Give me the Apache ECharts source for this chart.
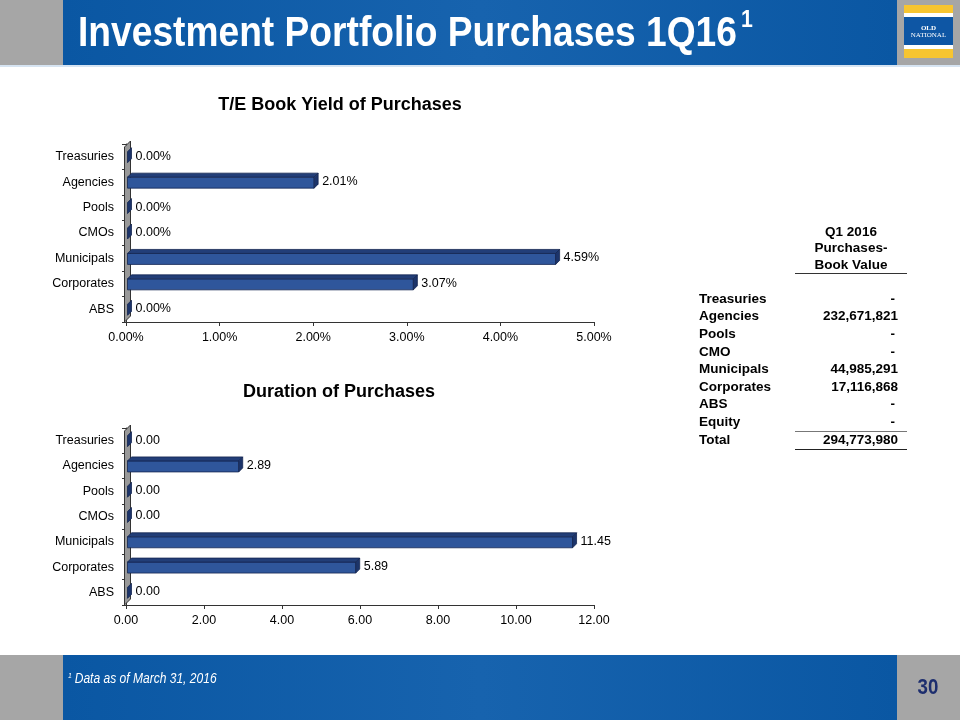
<!DOCTYPE html>
<html>
<head>
<meta charset="utf-8">
<script src="https://cdn.jsdelivr.net/npm/echarts@6/dist/echarts.min.js"></script>
<style>
html,body{margin:0;padding:0;background:#fff;}
#c{width:960px;height:720px;}
</style>
</head>
<body>
<div id="c"></div>
<script>
// ---- data ----
var categories = ['Treasuries', 'Agencies', 'Pools', 'CMOs', 'Municipals', 'Corporates', 'ABS'];
var yieldValues = [0.00, 2.01, 0.00, 0.00, 4.59, 3.07, 0.00];      // %
var durationValues = [0.00, 2.89, 0.00, 0.00, 11.45, 5.89, 0.00];
var yieldTicks = { min: 0, max: 5, interval: 1 };
var durationTicks = { min: 0, max: 12, interval: 2 };

var tableHeader = ['Q1 2016', 'Purchases-', 'Book Value'];
var tableLabels = ['Treasuries', 'Agencies', 'Pools', 'CMO', 'Municipals', 'Corporates', 'ABS', 'Equity', 'Total'];
var tableValues = ['-', '232,671,821', '-', '-', '44,985,291', '17,116,868', '-', '-', '294,773,980'];

var pageTitle = 'Investment Portfolio Purchases 1Q16';
var footnote = 'Data as of March 31, 2016';
var pageNumber = '30';

// ---- helpers ----
var FONT = 'Arial, "Liberation Sans", sans-serif';
var NARROW = '"Liberation Sans Narrow", "Arial Narrow", "Liberation Sans", Arial, sans-serif';

function toData(vals) { return vals.map(function (v, i) { return [v, i]; }); }

function bar3d(fmt) {
  return function (params, api) {
    var v = api.value(0), cat = api.value(1);
    var p0 = api.coord([0, cat]);
    var p1 = api.coord([v, cat]);
    var h = 11, d = 4;
    var x0 = p0[0] + 1.5, x1 = Math.max(p1[0], x0);
    var yTop = p1[1] - 5;
    var yBot = yTop + h;
    var children = [];
    if (x1 - x0 > 0.5) {
      children.push({ type: 'rect', shape: { x: x0, y: yTop, width: x1 - x0, height: h },
        style: { fill: '#2F569B', stroke: '#142650', lineWidth: 0.8 } });
      children.push({ type: 'polygon', shape: { points: [[x0, yTop], [x0 + d, yTop - d], [x1 + d, yTop - d], [x1, yTop]] },
        style: { fill: '#223E78', stroke: '#142650', lineWidth: 0.8 } });
    }
    children.push({ type: 'polygon', shape: { points: [[x1, yTop], [x1 + d, yTop - d], [x1 + d, yBot - d], [x1, yBot]] },
      style: { fill: '#1C346A', stroke: '#142650', lineWidth: 0.8 } });
    children.push({ type: 'text', style: { text: fmt(v), x: x1 + d + 4, y: p1[1] - 0.5,
      textAlign: 'left', textVerticalAlign: 'middle', fill: '#000', font: '12.5px ' + FONT } });
    return { type: 'group', children: children };
  };
}

function wall(params, api) {
  var cs = params.coordSys;
  var wd = 6;
  var x0 = cs.x - 1.5, yt = cs.y - 3, yb = cs.y + cs.height;
  return { type: 'polygon', shape: { points: [[x0, yb], [x0, yt + wd], [x0 + wd, yt], [x0 + wd, yb - wd]] },
    style: { fill: '#999999', stroke: '#333333', lineWidth: 1 } };
}

function xAxisCfg(gi, t, fmt) {
  return { type: 'value', gridIndex: gi, min: t.min, max: t.max, interval: t.interval,
    axisLine: { show: true, lineStyle: { color: '#333', width: 1 } },
    axisTick: { show: true, length: 4, lineStyle: { color: '#333' } },
    splitLine: { show: false },
    axisLabel: { color: '#000', fontSize: 12.5, fontFamily: FONT, margin: 9, formatter: fmt } };
}
function yAxisCfg(gi) {
  return { type: 'category', gridIndex: gi, data: categories, inverse: true,
    axisLine: { show: true, lineStyle: { color: '#333', width: 1 } },
    axisTick: { show: true, length: 4, lineStyle: { color: '#333' } },
    axisLabel: { color: '#000', fontSize: 12.5, fontFamily: FONT, margin: 12 } };
}

var blueGrad = function () {
  return new echarts.graphic.LinearGradient(0, 0, 1, 0, [
    { offset: 0, color: '#0A57A3' }, { offset: 0.5, color: '#1763AE' }, { offset: 1, color: '#0A57A3' }]);
};

var graphics = [];
// header
graphics.push({ type: 'rect', shape: { x: 0, y: 0, width: 960, height: 65 }, style: { fill: '#A6A6A6' }, z: 0 });
graphics.push({ type: 'rect', shape: { x: 63, y: 0, width: 834, height: 65 }, style: { fill: blueGrad() }, z: 1 });
graphics.push({ type: 'rect', shape: { x: 0, y: 65, width: 960, height: 2 }, style: { fill: '#D6E4F2' }, z: 1 });
graphics.push({ type: 'text', x: 78, y: 34, scaleX: 0.885, z: 5,
  style: { text: pageTitle, font: 'bold 42px ' + NARROW, fill: '#fff', textVerticalAlign: 'middle', textAlign: 'left' } });
graphics.push({ type: 'text', x: 741, y: 20, scaleX: 0.885, z: 5,
  style: { text: '1', font: 'bold 24px ' + NARROW, fill: '#fff', textVerticalAlign: 'middle', textAlign: 'left' } });
// logo
graphics.push({ type: 'rect', shape: { x: 904, y: 5, width: 49, height: 53 }, style: { fill: '#F7C531' }, z: 3 });
graphics.push({ type: 'rect', shape: { x: 904, y: 13, width: 49, height: 36 }, style: { fill: '#FFFFFF' }, z: 4 });
graphics.push({ type: 'rect', shape: { x: 904, y: 17, width: 49, height: 28 }, style: { fill: '#0E56A4' }, z: 5 });
graphics.push({ type: 'text', x: 928.5, y: 28, z: 6,
  style: { text: 'OLD', font: 'bold 7px "Liberation Serif", serif', fill: '#fff', textAlign: 'center', textVerticalAlign: 'middle' } });
graphics.push({ type: 'text', x: 928.5, y: 35, z: 6,
  style: { text: 'NATIONAL', font: '7px "Liberation Serif", serif', fill: '#fff', textAlign: 'center', textVerticalAlign: 'middle' } });
// footer
graphics.push({ type: 'rect', shape: { x: 0, y: 655, width: 960, height: 65 }, style: { fill: '#A6A6A6' }, z: 0 });
graphics.push({ type: 'rect', shape: { x: 63, y: 655, width: 834, height: 65 }, style: { fill: blueGrad() }, z: 1 });
graphics.push({ type: 'text', x: 68, y: 679, scaleX: 0.86, z: 5,
  style: { text: '{s|1} {t|' + footnote + '}', textVerticalAlign: 'middle', textAlign: 'left',
    rich: { s: { font: 'italic 8px ' + NARROW, fill: '#fff', verticalAlign: 'top', padding: [0, 0, 6, 0] },
            t: { font: 'italic 14px ' + NARROW, fill: '#fff' } } } });
graphics.push({ type: 'text', x: 928, y: 688, scaleX: 0.85, z: 5,
  style: { text: pageNumber, font: 'bold 22px ' + NARROW, fill: '#1D2E6E', textAlign: 'center', textVerticalAlign: 'middle' } });
// chart titles
graphics.push({ type: 'text', x: 340, y: 105, z: 5,
  style: { text: 'T/E Book Yield of Purchases', font: 'bold 18px ' + FONT, fill: '#000', textAlign: 'center', textVerticalAlign: 'middle' } });
graphics.push({ type: 'text', x: 339, y: 392, z: 5,
  style: { text: 'Duration of Purchases', font: 'bold 18px ' + FONT, fill: '#000', textAlign: 'center', textVerticalAlign: 'middle' } });
// table
var hy = [232, 248, 265];
tableHeader.forEach(function (t, i) {
  graphics.push({ type: 'text', x: 851, y: hy[i], z: 5,
    style: { text: t, font: 'bold 13.5px ' + FONT, fill: '#000', textAlign: 'center', textVerticalAlign: 'middle' } });
});
graphics.push({ type: 'line', shape: { x1: 795, y1: 273.5, x2: 907, y2: 273.5 }, style: { stroke: '#333', lineWidth: 1 }, z: 5 });
tableLabels.forEach(function (t, i) {
  var y = 299 + i * 17.6;
  graphics.push({ type: 'text', x: 699, y: y, z: 5,
    style: { text: t, font: 'bold 13.5px ' + FONT, fill: '#000', textAlign: 'left', textVerticalAlign: 'middle' } });
  var v = tableValues[i];
  graphics.push({ type: 'text', x: v === '-' ? 895 : 898, y: y, z: 5,
    style: { text: v, font: 'bold 13.5px ' + FONT, fill: '#000', textAlign: 'right', textVerticalAlign: 'middle' } });
});
graphics.push({ type: 'line', shape: { x1: 795, y1: 431.5, x2: 907, y2: 431.5 }, style: { stroke: '#777', lineWidth: 1 }, z: 5 });
graphics.push({ type: 'line', shape: { x1: 795, y1: 449.5, x2: 907, y2: 449.5 }, style: { stroke: '#222', lineWidth: 1 }, z: 5 });

var chart = echarts.init(document.getElementById('c'), null, { renderer: 'canvas' });
chart.setOption({
  animation: false,
  backgroundColor: '#fff',
  graphic: graphics,
  grid: [
    { left: 126, top: 144, width: 468, height: 178 },
    { left: 126, top: 428, width: 468, height: 177 }
  ],
  xAxis: [
    xAxisCfg(0, yieldTicks, function (v) { return v.toFixed(2) + '%'; }),
    xAxisCfg(1, durationTicks, function (v) { return v.toFixed(2); })
  ],
  yAxis: [yAxisCfg(0), yAxisCfg(1)],
  series: [
    { type: 'custom', xAxisIndex: 0, yAxisIndex: 0, data: [[0, 0]], renderItem: wall, silent: true, z: 1 },
    { type: 'custom', xAxisIndex: 1, yAxisIndex: 1, data: [[0, 0]], renderItem: wall, silent: true, z: 1 },
    { type: 'custom', name: 'T/E Book Yield', xAxisIndex: 0, yAxisIndex: 0, encode: { x: 0, y: 1 },
      data: toData(yieldValues), renderItem: bar3d(function (v) { return v.toFixed(2) + '%'; }), z: 3 },
    { type: 'custom', name: 'Duration', xAxisIndex: 1, yAxisIndex: 1, encode: { x: 0, y: 1 },
      data: toData(durationValues), renderItem: bar3d(function (v) { return v.toFixed(2); }), z: 3 }
  ]
});
</script>
</body>
</html>
